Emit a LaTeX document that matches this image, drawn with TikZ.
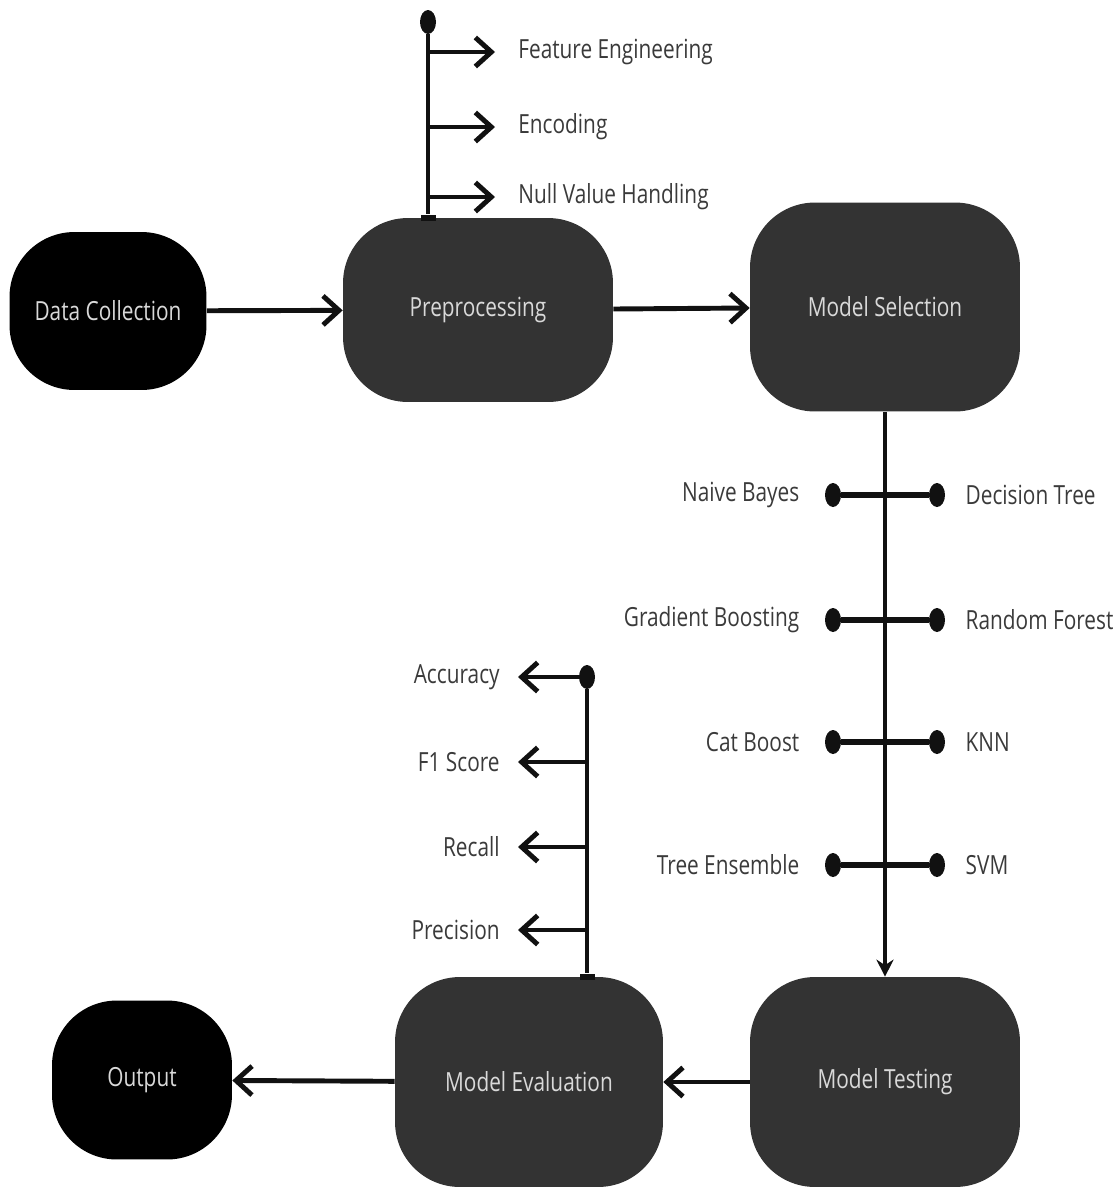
\documentclass[tikz,border=0pt]{standalone}
\usepackage{fontspec}
\setmainfont{Open Sans}[FakeStretch=0.79]
\usetikzlibrary{arrows.meta,positioning,shapes.geometric}
\definecolor{ink}{HTML}{111111}
\definecolor{slab}{HTML}{333333}
\definecolor{tag}{HTML}{3A3A3A}

\begin{document}
\begin{tikzpicture}[x=0.02cm,y=-0.02cm,font=\fontsize{15}{18}\selectfont,box/.style={rounded corners=1.3cm,fill=slab,text=white!85!black,align=center,inner sep=0pt},arr/.style={-{Straight Barb[length=3.2mm,width=5.8mm]},line width=2.8pt,draw=ink},tip/.style={-{Stealth[length=3.4mm,width=3.4mm]},line width=2.2pt,draw=ink},stem/.style={line width=2.6pt,draw=ink},bar/.style={line width=3.2pt,draw=ink},dot/.style={ellipse,fill=ink,inner sep=0pt,minimum width=0.32cm,minimum height=0.48cm},stub/.style={rectangle,fill=ink,inner sep=0pt,minimum width=0.3cm,minimum height=0.12cm},lbl/.style={text=tag,inner sep=0pt}]
\useasboundingbox (0,0) rectangle (1118,1187);
\node[box,fill=black,minimum width=3.94cm,minimum height=3.16cm] (dc) at (108,311) {Data Collection};
\node[box,minimum width=5.4cm,minimum height=3.68cm] (pre) at (478,310) {Preprocessing};
\node[box,minimum width=5.4cm,minimum height=4.18cm] (ms) at (885,307) {Model Selection};
\node[box,minimum width=5.4cm,minimum height=4.2cm] (mt) at (885,1082) {Model Testing};
\node[box,minimum width=5.36cm,minimum height=4.2cm] (me) at (529,1082) {Model Evaluation};
\node[box,fill=black,minimum width=3.6cm,minimum height=3.18cm] (out) at (142,1080) {Output};
\draw[arr] (dc) -- (pre);
\draw[arr] (pre) -- (ms);
\draw[tip] (ms) -- (mt);
\draw[arr] (mt) -- (me);
\draw[arr] (me) -- (out);
% preprocessing steps
\node[dot] (pdot) at (428,22) {};
\node[stub] (pstub) at (pre.north -| pdot) {};
\draw[stem] (pdot) -- (pstub);
\coordinate (p1) at (428,52);
\coordinate (p2) at (428,127);
\coordinate (p3) at (428,197);
\node[lbl,anchor=west,inner xsep=0.46cm] (fe) at (495,52) {Feature Engineering};
\node[lbl,anchor=west,inner xsep=0.46cm] (enc) at (495,127) {Encoding};
\node[lbl,anchor=west,inner xsep=0.46cm] (nvh) at (495,197) {Null Value Handling};
\draw[arr] (p1) -- (fe);
\draw[arr] (p2) -- (enc);
\draw[arr] (p3) -- (nvh);
% candidate models
\node[dot] (nb) at (833,495) {};
\node[dot] (dt) at (937,495) {};
\node[dot] (gb) at (833,620) {};
\node[dot] (rf) at (937,620) {};
\node[dot] (cb) at (833,742) {};
\node[dot] (knn) at (937,742) {};
\node[dot] (te) at (833,865) {};
\node[dot] (svm) at (937,865) {};
\draw[bar] (nb) -- (dt);
\draw[bar] (gb) -- (rf);
\draw[bar] (cb) -- (knn);
\draw[bar] (te) -- (svm);
\node[lbl,left=0.5cm of nb] (nbl) {Naive Bayes};
\node[lbl,right=0.4cm of dt] (dtl) {Decision Tree};
\node[lbl,left=0.5cm of gb] (gbl) {Gradient Boosting};
\node[lbl,right=0.4cm of rf] (rfl) {Random Forest};
\node[lbl,left=0.5cm of cb] (cbl) {Cat Boost};
\node[lbl,right=0.4cm of knn] (knnl) {KNN};
\node[lbl,left=0.5cm of te] (tel) {Tree Ensemble};
\node[lbl,right=0.4cm of svm] (svml) {SVM};
% evaluation metrics
\node[dot] (edot) at (587,677) {};
\node[stub] (estub) at (me.north -| edot) {};
\draw[line width=1.8pt,draw=ink] (edot) -- (estub);
\coordinate (e2) at (587,762);
\coordinate (e3) at (587,847);
\coordinate (e4) at (587,930);
\node[lbl,anchor=east,inner xsep=0.36cm] (acc) at (518,677) {Accuracy};
\node[lbl,anchor=east,inner xsep=0.36cm] (f1) at (518,762) {F1 Score};
\node[lbl,anchor=east,inner xsep=0.36cm] (rec) at (518,847) {Recall};
\node[lbl,anchor=east,inner xsep=0.36cm] (prc) at (518,930) {Precision};
\draw[arr] (edot) -- (acc);
\draw[arr] (e2) -- (f1);
\draw[arr] (e3) -- (rec);
\draw[arr] (e4) -- (prc);
\end{tikzpicture}
\end{document}
